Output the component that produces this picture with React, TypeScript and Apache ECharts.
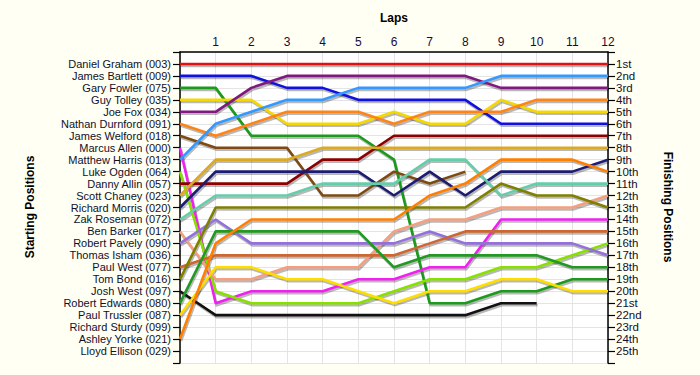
import React, { useEffect, useRef } from "react";
import * as echarts from "echarts";

const lapLabels = ["1", "2", "3", "4", "5", "6", "7", "8", "9", "10", "11", "12"];
const startNames = [
  "Daniel Graham (003)", "James Bartlett (009)", "Gary Fowler (075)", "Guy Tolley (035)",
  "Joe Fox (034)", "Nathan Durnford (091)", "James Welford (018)", "Marcus Allen (000)",
  "Matthew Harris (013)", "Luke Ogden (064)", "Danny Allin (057)", "Scott Chaney (023)",
  "Richard Morris (020)", "Zak Roseman (072)", "Ben Barker (017)", "Robert Pavely (090)",
  "Thomas Isham (036)", "Paul West (077)", "Tom Bond (016)", "Josh West (097)",
  "Robert Edwards (080)", "Paul Trussler (087)", "Richard Sturdy (099)", "Ashley Yorke (021)",
  "Lloyd Ellison (029)",
];
const finishLabels = [
  "1st", "2nd", "3rd", "4th", "5th", "6th", "7th", "8th", "9th", "10th", "11th", "12th", "13th",
  "14th", "15th", "16th", "17th", "18th", "19th", "20th", "21st", "22nd", "23rd", "24th", "25th",
];

// position at start (lap 0) then after laps 1..12 (null = retired)
const danielGraham = [1, 1, 1, 1, 1, 1, 1, 1, 1, 1, 1, 1, 1];
const jamesBartlett = [2, 2, 2, 3, 3, 4, 4, 4, 4, 6, 6, 6, 6];
const garyFowler = [3, 3, 7, 7, 7, 7, 9, 21, 21, 20, 20, 19, 19];
const guyTolley = [4, 4, 4, 6, 6, 6, 5, 6, 6, 4, 5, 5, 5];
const joeFox = [5, 5, 3, 2, 2, 2, 2, 2, 2, 3, 3, 3, 3];
const nathanDurnford = [6, 7, 6, 5, 5, 5, 6, 5, 5, 5, 4, 4, 4];
const jamesWelford = [7, 8, 8, 8, 12, 12, 10, 11, 10, null, null, null, null];
const marcusAllen = [8, 21, 20, 20, 20, 19, 19, 18, 18, 14, 14, 14, 14];
const matthewHarris = [9, 6, 5, 4, 4, 3, 3, 3, 3, 2, 2, 2, 2];
const lukeOgden = [10, 20, 21, 21, 21, 21, 20, 19, 19, 18, 18, 17, 16];
const dannyAllin = [11, 11, 11, 11, 9, 9, 7, 7, 7, 7, 7, 7, 7];
const scottChaney = [12, 9, 9, 9, 8, 8, 8, 8, 8, 8, 8, 8, 8];
const richardMorris = [13, 10, 10, 10, 10, 10, 12, 10, 12, 10, 10, 10, 9];
const zakRoseman = [14, 12, 12, 12, 11, 11, 11, 9, 9, 12, 11, 11, 11];
const benBarker = [15, 19, 19, 18, 18, 18, 15, 14, 14, 13, 13, 13, 12];
const robertPavely = [16, 14, 16, 16, 16, 16, 16, 15, 16, 16, 16, 16, 17];
const paulWest = [18, 17, 17, 17, 17, 17, 17, 16, 15, 15, 15, 15, 15];
const tomBond = [19, 13, 13, 13, 13, 13, 13, 13, 13, 11, 12, 12, 13];
const joshWest = [20, 22, 22, 22, 22, 22, 22, 22, 22, 21, 21, null, null];
const robertEdwards = [21, 15, 15, 15, 15, 15, 18, 17, 17, 17, 17, 18, 18];
const paulTrussler = [22, 18, 18, 19, 19, 20, 21, 20, 20, 19, 19, 20, 20];
const ashleyYorke = [24, 16, 14, 14, 14, 14, 14, 12, 11, 9, 9, 9, 10];

const drivers = [
  { name: startNames[0], pos: danielGraham },
  { name: startNames[1], pos: jamesBartlett },
  { name: startNames[2], pos: garyFowler },
  { name: startNames[3], pos: guyTolley },
  { name: startNames[4], pos: joeFox },
  { name: startNames[5], pos: nathanDurnford },
  { name: startNames[6], pos: jamesWelford },
  { name: startNames[7], pos: marcusAllen },
  { name: startNames[8], pos: matthewHarris },
  { name: startNames[9], pos: lukeOgden },
  { name: startNames[10], pos: dannyAllin },
  { name: startNames[11], pos: scottChaney },
  { name: startNames[12], pos: richardMorris },
  { name: startNames[13], pos: zakRoseman },
  { name: startNames[14], pos: benBarker },
  { name: startNames[15], pos: robertPavely },
  { name: startNames[17], pos: paulWest },
  { name: startNames[18], pos: tomBond },
  { name: startNames[19], pos: joshWest },
  { name: startNames[20], pos: robertEdwards },
  { name: startNames[21], pos: paulTrussler },
  { name: startNames[23], pos: ashleyYorke },
];

const colors = [
  "#e31010", "#1010e0", "#1c9a1c", "#f5d800", "#801880", "#ff8418", "#7e4a12", "#f020f0",
  "#3399ff", "#88e000", "#8b0000", "#dcaa22", "#1c1c72", "#66cdaa", "#f4a080", "#9370db",
  "#cd6630", "#7f7f00", "#111111", "#229922", "#ffdd00", "#ff8000",
];

export default function App() {
  const ref = useRef<HTMLDivElement>(null);
  useEffect(() => {
    if (!ref.current) return;
    const chart = echarts.init(ref.current, null, { renderer: "svg" });
    const font = "'Liberation Sans', Arial, sans-serif";

    const shadowSeries = {
      type: "custom",
      coordinateSystem: "cartesian2d",
      silent: true,
      z: 2,
      encode: { x: 0, y: 1 },
      data: drivers.map((_, i) => [0, 1, i]),
      renderItem: (params: any, api: any) => {
        const idx = api.value(2);
        const pos = drivers[idx].pos;
        const children: any[] = [];
        let pts: number[][] = [];
        const flush = () => {
          if (pts.length > 1) {
            children.push({
              type: "polyline",
              shape: { points: pts },
              style: { stroke: "rgba(0,0,0,0.28)", lineWidth: 2.6, fill: "none" },
            });
          }
          pts = [];
        };
        pos.forEach((p, lap) => {
          if (p == null) {
            flush();
          } else {
            const c = api.coord([lap, p]);
            pts.push([c[0] + 1, c[1] + 2]);
          }
        });
        flush();
        return { type: "group", children };
      },
    };

    const series: any[] = drivers.map((d, i) => ({
      type: "line",
      name: d.name,
      yAxisIndex: 0,
      showSymbol: false,
      symbol: "none",
      connectNulls: false,
      data: d.pos.map((p, lap) => [lap, p]),
      lineStyle: { color: colors[i], width: 2.6 },
      itemStyle: { color: colors[i] },
      z: 3,
    }));
    series.unshift(shadowSeries);

    chart.setOption({
      animation: false,
      backgroundColor: "#fffff4",
      textStyle: { fontFamily: font },
      grid: {
        left: 180,
        right: 92,
        top: 52,
        bottom: 12,
        show: true,
        backgroundColor: "#ffffff",
        borderWidth: 0,
      },
      xAxis: {
        type: "value",
        position: "top",
        min: 0,
        max: 12,
        interval: 1,
        axisLine: { show: true, lineStyle: { color: "#000", width: 1.5 } },
        axisTick: { show: false },
        axisLabel: {
          color: "#1a0a3a",
          fontSize: 12,
          margin: 4,
          formatter: (v: number) => (v >= 1 && v <= 12 ? lapLabels[v - 1] : ""),
        },
        splitLine: { show: true, lineStyle: { color: "#e4e4e4", width: 1 } },
      },
      yAxis: [
        {
          type: "value",
          position: "left",
          inverse: true,
          min: 0,
          max: 26,
          interval: 1,
          axisLine: { show: true, lineStyle: { color: "#000", width: 1.5 } },
          axisTick: { show: true, length: 7, lineStyle: { color: "#000", width: 1.2 } },
          axisLabel: {
            color: "#10102a",
            fontSize: 11,
            lineHeight: 11,
            margin: 9,
            formatter: (v: number) => (v >= 1 && v <= 25 ? startNames[v - 1] : ""),
          },
          splitLine: { show: true, lineStyle: { color: "#e4e4e4", width: 1 } },
        },
        {
          type: "value",
          position: "right",
          inverse: true,
          min: 0,
          max: 26,
          interval: 1,
          axisLine: { show: true, lineStyle: { color: "#000", width: 1.5 } },
          axisTick: { show: true, length: 7, lineStyle: { color: "#000", width: 1.2 } },
          axisLabel: {
            color: "#10102a",
            fontSize: 11.5,
            lineHeight: 11,
            margin: 8,
            formatter: (v: number) => (v >= 1 && v <= 25 ? finishLabels[v - 1] : ""),
          },
          splitLine: { show: false },
        },
      ],
      graphic: [
        {
          type: "text",
          x: 394,
          y: 18,
          style: {
            text: "Laps",
            font: "bold 12px 'Liberation Sans', Arial, sans-serif",
            fill: "#000",
            align: "center",
            verticalAlign: "middle",
          },
        },
        {
          type: "text",
          x: 30,
          y: 207,
          rotation: Math.PI / 2,
          style: {
            text: "Starting Positions",
            font: "bold 12px 'Liberation Sans', Arial, sans-serif",
            fill: "#000",
            align: "center",
            verticalAlign: "middle",
          },
        },
        {
          type: "text",
          x: 668,
          y: 207,
          rotation: -Math.PI / 2,
          style: {
            text: "Finishing Positions",
            font: "bold 12px 'Liberation Sans', Arial, sans-serif",
            fill: "#000",
            align: "center",
            verticalAlign: "middle",
          },
        },
      ],
      series,
    });
    return () => chart.dispose();
  }, []);
  return (
    <div
      ref={ref}
      style={{ position: "absolute", left: 0, top: 0, width: 700, height: 375 }}
    />
  );
}
